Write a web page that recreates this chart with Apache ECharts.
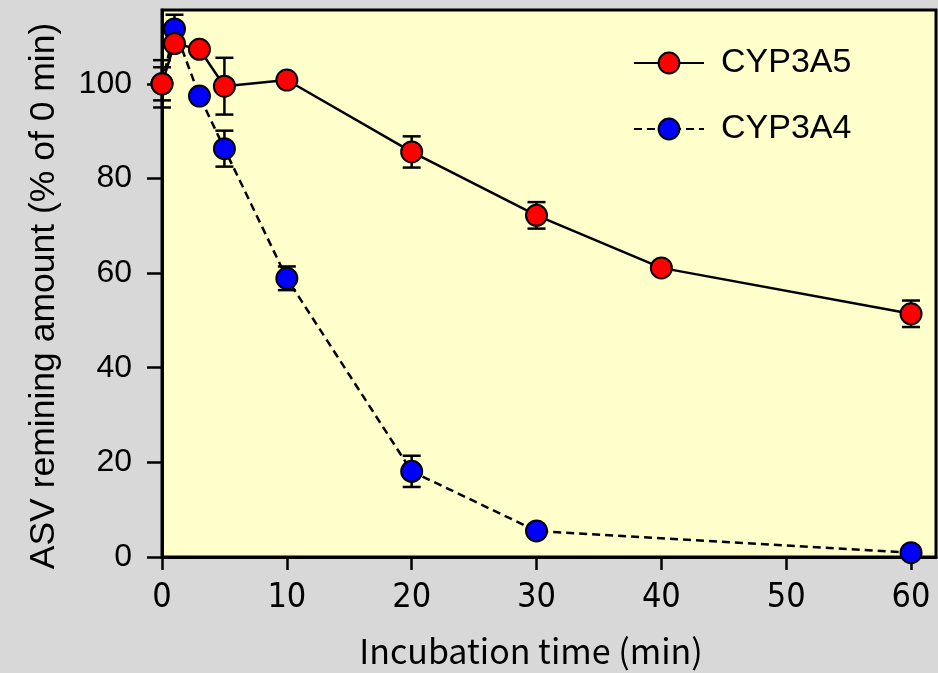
<!DOCTYPE html>
<html>
<head>
<meta charset="utf-8">
<script src="https://cdn.jsdelivr.net/npm/echarts@6/dist/echarts.min.js"></script>
<style>
    html, body { margin: 0; padding: 0; background: #d8d8d8; }
    #chart { width: 938px; height: 673px; }
</style>
</head>
<body>
<div id="chart"></div>
<script>
    // incubation times (min)
    var timeA5 = [0, 1, 3, 5, 10, 20, 30, 40, 60];
    var valA5 = [100, 108.5, 107.3, 99.5, 100.8, 85.6, 72.2, 61.1, 51.4];
    var errA5 = [3.5, 0, 0, 6, 0, 3.3, 2.8, 0, 2.8];

    var timeA4 = [0, 1, 3, 5, 10, 20, 30, 60];
    var valA4 = [100, 111.6, 97.4, 86.3, 58.9, 18.1, 5.5, 0.9];
    var errA4 = [5, 3, 0, 3.8, 2.5, 3.3, 0, 0];

    var xTicks = [0, 10, 20, 30, 40, 50, 60];
    var yTicks = [0, 20, 40, 60, 80, 100];

    function pairs(t, v) {
        var out = [];
        for (var i = 0; i < t.length; i++) {
            out.push([t[i], v[i]]);
        }
        return out;
    }

    function errRows(t, v, e) {
        var out = [];
        for (var i = 0; i < t.length; i++) {
            if (e[i] > 0) {
                out.push([t[i], v[i] - e[i], v[i] + e[i]]);
            }
        }
        return out;
    }

    function renderErr(params, api) {
        var lo = api.coord([api.value(0), api.value(1)]);
        var hi = api.coord([api.value(0), api.value(2)]);
        var w = 9;
        var st = { stroke: '#000', lineWidth: 2.5 };
        return {
            type: 'group',
            children: [
                { type: 'line', shape: { x1: lo[0], y1: lo[1], x2: hi[0], y2: hi[1] }, style: st },
                { type: 'line', shape: { x1: lo[0] - w, y1: lo[1], x2: lo[0] + w, y2: lo[1] }, style: st },
                { type: 'line', shape: { x1: hi[0] - w, y1: hi[1], x2: hi[0] + w, y2: hi[1] }, style: st }
            ]
        };
    }

    var chart = echarts.init(document.getElementById('chart'));

    var axisFont = 'Liberation Sans Narrow, DejaVu Sans Condensed, sans-serif';

    var option = {
        animation: false,
        backgroundColor: '#d8d8d8',
        grid: {
            left: 162,
            right: 2,
            top: 10,
            bottom: 116,
            outerBoundsMode: 'none',
            show: true,
            backgroundColor: '#ffffcc',
            borderColor: '#000',
            borderWidth: 3
        },
        legend: {
            orient: 'vertical',
            left: 628,
            top: 38,
            itemWidth: 70,
            itemHeight: 26,
            itemGap: 26,
            data: ['CYP3A5', 'CYP3A4'],
            textStyle: {
                fontFamily: 'Liberation Sans, Arial, sans-serif',
                fontSize: 34,
                color: '#000',
                lineHeight: 40,
                padding: [0, 0, 0, 12]
            }
        },
        xAxis: {
            type: 'value',
            min: 0,
            max: 62,
            name: 'Incubation time (min)',
            nameLocation: 'middle',
            nameGap: 77,
            nameTextStyle: {
                fontFamily: 'Noto Sans CJK JP',
                fontSize: 34,
                color: '#000',
                padding: [0, 36, 0, 0]
            },
            splitLine: { show: false },
            axisLine: { lineStyle: { color: '#000', width: 3 } },
            axisTick: {
                customValues: xTicks,
                length: 13,
                lineStyle: { color: '#000', width: 2.5 }
            },
            axisLabel: {
                customValues: xTicks,
                margin: 24,
                fontFamily: axisFont,
                fontSize: 34,
                color: '#000'
            }
        },
        yAxis: {
            type: 'value',
            min: 0,
            max: 115.6,
            name: 'ASV remining amount (% of 0 min)',
            nameLocation: 'middle',
            nameGap: 100,
            nameTextStyle: {
                fontFamily: 'Liberation Sans, Arial, sans-serif',
                fontSize: 35.5,
                color: '#000',
                padding: [0, 25, 0, 0]
            },
            splitLine: { show: false },
            axisLine: { lineStyle: { color: '#000', width: 3 } },
            axisTick: {
                customValues: yTicks,
                length: 15,
                lineStyle: { color: '#000', width: 2.5 }
            },
            axisLabel: {
                customValues: yTicks,
                margin: 30,
                fontFamily: 'Liberation Sans, Arial, sans-serif',
                fontSize: 32,
                color: '#000'
            }
        },
        series: [
            {
                name: 'errA4',
                type: 'custom',
                renderItem: renderErr,
                data: errRows(timeA4, valA4, errA4),
                z: 1
            },
            {
                name: 'errA5',
                type: 'custom',
                renderItem: renderErr,
                data: errRows(timeA5, valA5, errA5),
                z: 1
            },
            {
                name: 'CYP3A4',
                type: 'line',
                data: pairs(timeA4, valA4),
                symbol: 'circle',
                symbolSize: 21,
                z: 2,
                itemStyle: { color: '#0000ff', borderColor: '#000', borderWidth: 2 },
                lineStyle: { color: '#000', width: 2.5, type: [8, 5] }
            },
            {
                name: 'CYP3A5',
                type: 'line',
                data: pairs(timeA5, valA5),
                symbol: 'circle',
                symbolSize: 21,
                z: 3,
                itemStyle: { color: '#ff0000', borderColor: '#000', borderWidth: 2 },
                lineStyle: { color: '#000', width: 2.5 }
            }
        ]
    };

    chart.setOption(option);
</script>
</body>
</html>
